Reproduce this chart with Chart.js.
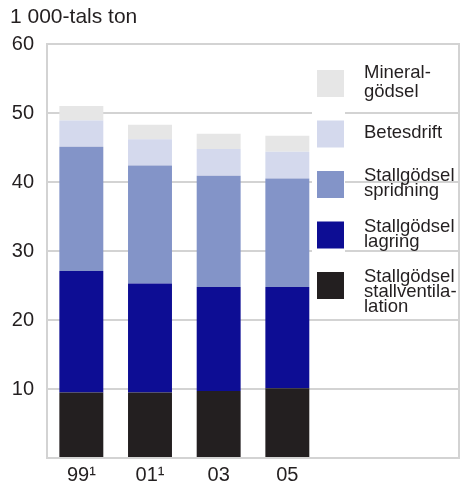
<!DOCTYPE html>
<html>
<head>
<meta charset="utf-8">
<script src="https://cdn.jsdelivr.net/npm/chart.js@4.4.1/dist/chart.umd.min.js"></script>
<style>
  html, body { margin: 0; padding: 0; background: #fff; }
  #wrap { width: 461px; height: 487px; position: relative; }
</style>
</head>
<body>
<div id="wrap"><canvas id="c" width="461" height="487"></canvas></div>
<script>
// Ammoniakutsläpp från jordbruket, 1 000-tals ton
const years = ['99¹', '01¹', '03', '05', '', ''];
const stallventilation = [9.5, 9.5, 9.7, 10.1, null, null];
const lagring = [17.6, 15.8, 15.1, 14.7, null, null];
const spridning = [18.0, 17.1, 16.1, 15.7, null, null];
const betesdrift = [3.8, 3.8, 3.9, 3.9, null, null];
const mineralgodsel = [2.1, 2.1, 2.2, 2.3, null, null];
const yTicks = [10, 20, 30, 40, 50, 60];

const seriesLabels = [
  'Stallgödsel\nstallventila-\nlation',
  'Stallgödsel\nlagring',
  'Stallgödsel\nspridning',
  'Betesdrift',
  'Mineral-\ngödsel'
];
const seriesColors = ['#231f20', '#0d0d94', '#8394c8', '#d4d9ed', '#e6e6e6'];
const seriesData = [stallventilation, lagring, spridning, betesdrift, mineralgodsel];

const FONT = 'Arial, "Liberation Sans", sans-serif';
const TEXT = '#231f20';
const GRID = '#d3d3d3';

// Unit title, frame and the legend drawn inside the plot
const decorations = {
  id: 'decorations',
  beforeDatasetsDraw(chart) {
    const ctx = chart.ctx;
    ctx.save();
    // white band behind the legend swatches
    ctx.fillStyle = '#fff';
    ctx.fillRect(312, 62, 33, 240);
    ctx.restore();
  },
  afterDraw(chart) {
    const ctx = chart.ctx;
    const a = chart.chartArea;
    ctx.save();
    ctx.strokeStyle = GRID;
    ctx.lineWidth = 2;
    ctx.beginPath();
    ctx.moveTo(a.left, a.top);
    ctx.lineTo(a.right, a.top);
    ctx.lineTo(a.right, a.bottom);
    ctx.stroke();

    ctx.fillStyle = TEXT;
    ctx.font = '21px ' + FONT;
    ctx.textBaseline = 'alphabetic';
    ctx.textAlign = 'left';
    ctx.fillText('1 000-tals ton', 10, 23);

    // legend, top of the stack first
    const ds = chart.data.datasets.slice().reverse();
    const sw = 27, x0 = 317, tx = 364, top0 = 70, step = 50.5, lh = 15;
    ctx.font = '18.5px ' + FONT;
    ds.forEach((d, i) => {
      const y = top0 + i * step;
      ctx.fillStyle = d.backgroundColor;
      ctx.fillRect(x0, y, sw, sw);
      const lines = d.label.split('\n');
      ctx.fillStyle = TEXT;
      const base = lines.length === 1 ? y + sw / 2 + 4 : (i === 0 ? y + 7.5 : y + 10);
      const spacing = i === 0 ? 19 : lh;
      lines.forEach((ln, k) => ctx.fillText(ln, tx, base + k * spacing));
    });
    ctx.restore();
  }
};

new Chart(document.getElementById('c'), {
  type: 'bar',
  data: {
    labels: years,
    datasets: seriesData.map((d, i) => ({
      label: seriesLabels[i],
      data: d,
      backgroundColor: seriesColors[i],
      borderWidth: 0,
      barPercentage: 0.64,
      categoryPercentage: 1.0
    }))
  },
  options: {
    responsive: false,
    animation: false,
    devicePixelRatio: 1,
    layout: { padding: { top: 44, right: 2, left: 0, bottom: 0 } },
    plugins: { legend: { display: false }, tooltip: { enabled: false } },
    scales: {
      x: {
        stacked: true,
        grid: { display: false, drawTicks: false },
        border: { color: GRID, width: 2 },
        ticks: { color: TEXT, font: { size: 20, family: FONT }, padding: 5, maxRotation: 0, autoSkip: false },
        afterFit: s => { s.height = 29; }
      },
      y: {
        stacked: true,
        min: 0,
        max: 60,
        afterBuildTicks: s => { s.ticks = [0].concat(yTicks).map(v => ({ value: v })); },
        grid: { color: GRID, lineWidth: 2, drawTicks: false },
        border: { color: GRID, width: 2 },
        ticks: {
          color: TEXT,
          font: { size: 20, family: FONT },
          padding: 13,
          callback: v => (v === 0 ? '' : String(v))
        },
        afterFit: s => { s.width = 47; }
      }
    }
  },
  plugins: [decorations]
});
</script>
</body>
</html>
